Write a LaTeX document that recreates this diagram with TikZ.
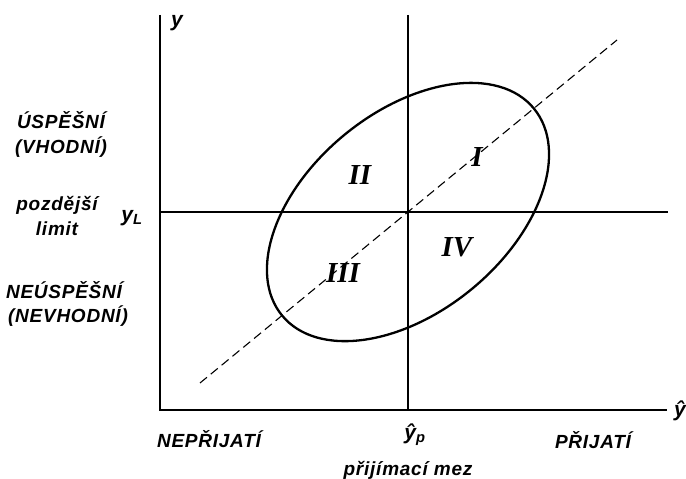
\documentclass[tikz,border=0pt]{standalone}
\usepackage{fontspec}
\setmainfont{Liberation Sans}
\newfontfamily\numfont{Liberation Serif}
\newfontfamily\labfont[LetterSpace=4]{Liberation Sans}
\begin{document}
\begin{tikzpicture}[x=1pt,y=1pt,
  lab/.style={font=\fontsize{19}{21}\selectfont\labfont\bfseries\itshape, inner sep=0pt},
  sym/.style={font=\fontsize{21}{23}\selectfont\bfseries\itshape, inner sep=0pt},
  rom/.style={font=\fontsize{29}{31}\selectfont\numfont\bfseries\itshape, inner sep=0pt},
  axisline/.style={line width=2.6pt},
  midline/.style={line width=1.6pt},
  dashline/.style={line width=1.1pt, dash pattern=on 9pt off 5pt}]
\useasboundingbox (0,0) rectangle (686,479);
% axes
\coordinate (O) at (160,69);
\coordinate (ytop) at (160,464);
\coordinate (xend) at (667,69);
\coordinate (ptop) at (408,464);
\coordinate (pbot) at (408,69);
\coordinate (lleft) at (160,267);
\coordinate (lright) at (668,267);
\coordinate (c) at (408,267);
\coordinate (d1) at (200,96);
\coordinate (d2) at (617,439);
\draw[axisline] (ytop) -- (O) -- (xend);
\draw[axisline] (ptop) -- (pbot);
\draw[midline] (lleft) -- (lright);
\draw[dashline] (d1) -- (d2);
\draw[line width=2.3pt, rotate around={39.4:(c)}] (c) ellipse [x radius=163pt, y radius=100pt];
% labels
\node[sym] (ylab) at (177,456) {y};
\node[lab] (usp) at (61,359) {ÚSPĚŠNÍ};
\node[lab] (vh) at (61,332) {(VHODNÍ)};
\node[lab] (poz) at (57,274) {pozdější};
\node[lab] (lim) at (57,250) {limit};
\node[sym] (yl) at (132,261) {y\textsubscript{L}};
\node[lab] (neusp) at (64,189) {NEÚSPĚŠNÍ};
\node[lab] (nevh) at (68,163) {(NEVHODNÍ)};
\node[lab] (nep) at (209,40) {NEPŘIJATÍ};
\node[sym] (yp) at (415,44) {ŷ\textsubscript{p}};
\node[lab] (pri) at (593,39) {PŘIJATÍ};
\node[lab] (mez) at (408,9) {přijímací mez};
\node[sym, anchor=west] (yhat) at (674,68) {ŷ};
% regions
\node[rom] (r1) at (477,322) {I};
\node[rom] (r2) at (360,304) {II};
\node[rom] (r3) at (343,206) {III};
\node[rom] (r4) at (457,232) {IV};
\end{tikzpicture}
\end{document}
